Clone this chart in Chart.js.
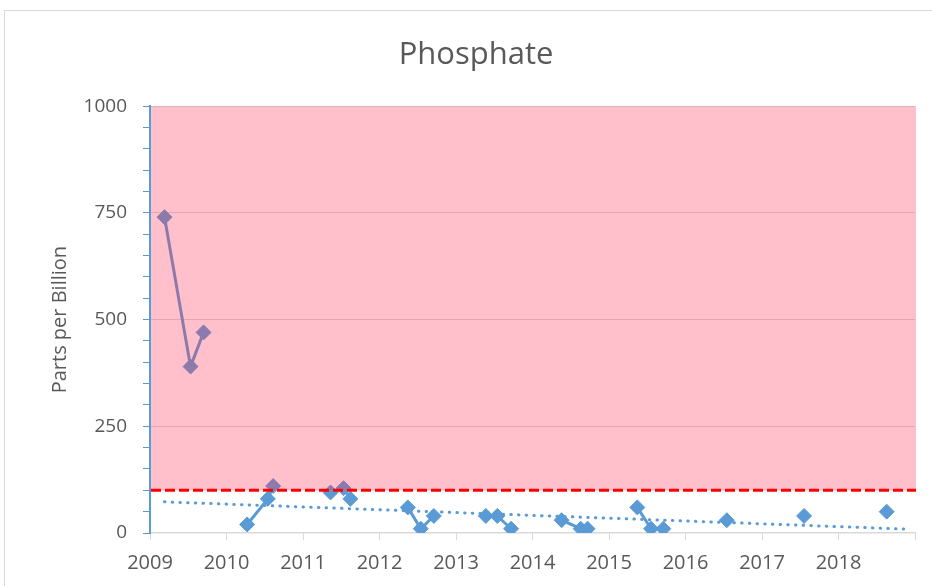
<!DOCTYPE html>
<html>
<head>
<meta charset="utf-8">
<script src="https://cdn.jsdelivr.net/npm/chart.js@4"></script>
<style>
  body { margin: 0; background: #fff; overflow: hidden; }
</style>
</head>
<body>
<canvas id="chart" width="932" height="586"></canvas>
<script>
// sample dates as decimal years, phosphate in ppb
const sampleDates = [2009.19, 2009.53, 2009.70, 2010.27, 2010.54, 2010.61, 2011.36, 2011.53, 2011.62,
  2012.37, 2012.54, 2012.71, 2013.39, 2013.54, 2013.72, 2014.38, 2014.63, 2014.72,
  2015.37, 2015.55, 2015.71, 2016.54, 2017.55, 2018.63];
const phosphatePpb = [740, 390, 470, 20, 80, 110, 95, 105, 80,
  60, 10, 40, 40, 40, 10, 30, 10, 10,
  60, 10, 10, 30, 40, 50];

// linear trend
const trendDates = [2009.19, 2018.9];
const trendPpb = [73, 9];

// limit line and the shaded "too high" band
const limitPpb = 100;
const bandTop = 1000;

const yearTicks = [2009, 2010, 2011, 2012, 2013, 2014, 2015, 2016, 2017, 2018];

const blue = '#5B9BD5';
const grey = '#595959';

const samples = sampleDates.map((d, i) => ({ x: d, y: phosphatePpb[i] }));
const trend = trendDates.map((d, i) => ({ x: d, y: trendPpb[i] }));

const frame = {
  id: 'frame',
  beforeDraw(chart) {
    const ctx = chart.ctx;
    ctx.save();
    ctx.strokeStyle = '#D9D9D9';
    ctx.lineWidth = 1;
    ctx.strokeRect(4.5, 10.5, 1000, 1000);
    ctx.restore();
  }
};

const band = {
  id: 'band',
  afterDatasetsDraw(chart) {
    const { ctx, chartArea, scales } = chart;
    const y1 = scales.y.getPixelForValue(bandTop);
    const y2 = scales.y.getPixelForValue(limitPpb);
    ctx.save();
    ctx.fillStyle = 'rgba(255, 45, 82, 0.3)';
    ctx.fillRect(chartArea.left + 1, y1, chartArea.right - chartArea.left, y2 - y1);
    ctx.strokeStyle = '#FF0000';
    ctx.lineWidth = 3;
    ctx.setLineDash([10, 4]);
    ctx.beginPath();
    ctx.moveTo(chartArea.left + 1, y2);
    ctx.lineTo(chartArea.right + 1, y2);
    ctx.stroke();
    ctx.restore();
  }
};

new Chart(document.getElementById('chart'), {
  type: 'line',
  data: {
    datasets: [
      {
        data: samples,
        borderColor: blue,
        backgroundColor: blue,
        borderWidth: 3,
        pointStyle: 'rectRot',
        pointRadius: 7.5,
        pointBorderWidth: 1,
        pointBackgroundColor: blue,
        pointBorderColor: blue,
        segment: {
          // only join samples taken in the same year
          borderColor: (c) => Math.floor(c.p0.parsed.x) === Math.floor(c.p1.parsed.x) ? blue : 'transparent'
        }
      },
      {
        data: trend,
        borderColor: blue,
        borderWidth: 3,
        borderDash: [0.5, 7.2],
        borderCapStyle: 'round',
        pointRadius: 0
      }
    ]
  },
  options: {
    responsive: false,
    animation: false,
    devicePixelRatio: 1,
    layout: { padding: { left: 37, right: 17, top: 0, bottom: 0 } },
    plugins: {
      legend: { display: false },
      tooltip: { enabled: false },
      title: {
        display: true,
        text: 'Phosphate',
        color: grey,
        font: { family: 'Open Sans', size: 31, weight: 'normal', lineHeight: 1.2 },
        padding: { top: 37, bottom: 32 }
      }
    },
    scales: {
      x: {
        type: 'linear',
        min: 2009,
        max: 2019,
        afterFit: (s) => { s.height = 53; },
        afterBuildTicks: (s) => {
          s.ticks = yearTicks.concat([2019]).map((v) => ({ value: v }));
        },
        ticks: {
          autoSkip: false,
          maxRotation: 0,
          color: grey,
          padding: 11,
          font: { family: 'Open Sans', size: 20 },
          callback: (v) => yearTicks.includes(v) ? String(v) : ''
        },
        grid: {
          drawOnChartArea: false,
          color: '#D9D9D9',
          tickLength: 7
        },
        border: { color: '#D9D9D9', width: 1.5 }
      },
      y: {
        min: 0,
        max: 1000,
        afterFit: (s) => { s.width = 113; },
        ticks: {
          stepSize: 50,
          autoSkip: false,
          color: grey,
          padding: 16,
          font: { family: 'Open Sans', size: 19 },
          callback: (v) => v % 250 === 0 ? String(v) : ''
        },
        grid: {
          color: (c) => c.tick && c.tick.value % 250 === 0 && c.tick.value > 0 ? '#D9D9D9' : 'transparent',
          tickColor: blue,
          tickLength: 7,
          lineWidth: 1
        },
        border: { color: blue, width: 2 },
        title: {
          display: true,
          text: 'Parts per Billion',
          color: grey,
          font: { family: 'Open Sans', size: 20, lineHeight: 1.2 },
          padding: { top: 11, bottom: 0 }
        }
      }
    }
  },
  plugins: [frame, band]
});
</script>
</body>
</html>
